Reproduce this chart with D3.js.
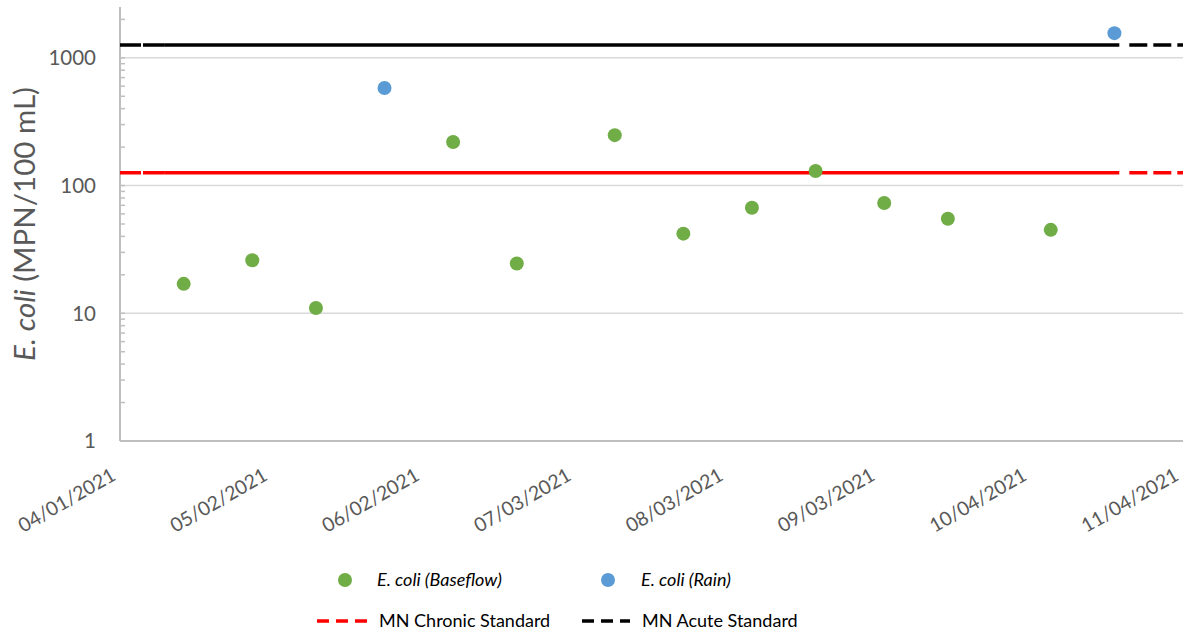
<!DOCTYPE html>
<html><head><meta charset="utf-8">
<script src="https://cdn.jsdelivr.net/npm/d3@7"></script>
<style>
body{margin:0;background:#fff}
text{font-family:Lato,"Open Sans",sans-serif}
</style>
</head><body>
<svg id="chart" width="1183" height="637"></svg>
<script>
// ---- data ----
const baseflowDates  = ["2021-04-14","2021-04-28","2021-05-11","2021-06-08","2021-06-21","2021-07-11","2021-07-25","2021-08-08","2021-08-21","2021-09-04","2021-09-17","2021-10-08"];
const baseflowValues = [17, 26, 11, 219, 24.5, 248, 42, 67, 130, 73, 55, 45];
const rainDates      = ["2021-05-25","2021-10-21"];
const rainValues     = [580, 1560];
const chronicStandard = 126;
const acuteStandard   = 1260;
const standardSolidDates = ["2021-04-10","2021-10-22"];
const xDomainDates = ["2021-04-01","2021-11-04"];
const xTickDates   = ["2021-04-01","2021-05-02","2021-06-02","2021-07-03","2021-08-03","2021-09-03","2021-10-04","2021-11-04"];
const xTickLabels  = ["04/01/2021","05/02/2021","06/02/2021","07/03/2021","08/03/2021","09/03/2021","10/04/2021","11/04/2021"];
const yTickValues  = [1, 10, 100, 1000];
const yTickLabels  = ["1","10","100","1000"];
const yDomain      = [1, 2500];
const seriesNames  = ["E. coli (Baseflow)","E. coli (Rain)","MN Chronic Standard","MN Acute Standard"];

// ---- layout ----
const L = 120, R = 1183, T = 7, B = 441;
const parse = s => new Date(s + "T00:00:00Z");
const svg = d3.select("#chart");
const x = d3.scaleUtc().domain(xDomainDates.map(parse)).range([L, R]);
const y = d3.scaleLog().domain(yDomain).range([B, T]);
const grey = "#595959", axisCol = "#bfbfbf", gridCol = "#d9d9d9";
const green = "#70ad47", blue = "#5b9bd5";

// gridlines
svg.append("g").selectAll("line").data(yTickValues.filter(v => v > 1)).join("line")
  .attr("x1", L).attr("x2", R).attr("y1", d => y(d)).attr("y2", d => y(d))
  .attr("stroke", gridCol).attr("stroke-width", 1.5);

// minor ticks
const minor = [];
for (let dec = 1; dec <= 1000; dec *= 10) for (let m = 1; m <= 9; m++) { const v = dec * m; if (v <= yDomain[1]) minor.push(v); }
svg.append("g").selectAll("line").data(minor).join("line")
  .attr("x1", L).attr("x2", L + 5).attr("y1", d => y(d)).attr("y2", d => y(d))
  .attr("stroke", axisCol).attr("stroke-width", 1.5);

// axes lines
svg.append("line").attr("x1", L).attr("x2", L).attr("y1", T).attr("y2", B).attr("stroke", axisCol).attr("stroke-width", 2);
svg.append("line").attr("x1", L).attr("x2", R).attr("y1", B).attr("y2", B).attr("stroke", axisCol).attr("stroke-width", 2);

// y tick labels
svg.append("g").selectAll("text").data(yTickValues).join("text")
  .attr("x", 96).attr("y", d => y(d)).attr("dy", "0.36em")
  .attr("text-anchor", "end").attr("fill", grey).attr("font-size", 20.5)
  .text((d, i) => yTickLabels[i]);

// x tick labels
svg.append("g").selectAll("text").data(xTickDates).join("text")
  .attr("transform", d => `translate(${x(parse(d)) - 3},${479}) rotate(-30)`)
  .attr("text-anchor", "end").attr("fill", grey).attr("font-size", 19.5)
  .text((d, i) => xTickLabels[i]);

// y axis title
const yt = svg.append("text").attr("transform", `translate(35,${(T + B) / 2}) rotate(-90)`)
  .attr("text-anchor", "middle").attr("fill", grey).attr("font-size", 29.5);
yt.append("tspan").attr("font-style", "italic").text("E. coli");
yt.append("tspan").text(" (MPN/100 mL)");

// standard lines
function stdLine(val, color) {
  const yy = y(val);
  const s0 = x(parse(standardSolidDates[0])), s1 = x(parse(standardSolidDates[1]));
  svg.append("line").attr("x1", L).attr("x2", s0).attr("y1", yy).attr("y2", yy)
    .attr("stroke", color).attr("stroke-width", 3.5).attr("stroke-dasharray", "21,2");
  svg.append("line").attr("x1", s0).attr("x2", s1).attr("y1", yy).attr("y2", yy)
    .attr("stroke", color).attr("stroke-width", 3.5);
  svg.append("line").attr("x1", s1 + 10).attr("x2", R).attr("y1", yy).attr("y2", yy)
    .attr("stroke", color).attr("stroke-width", 3.5).attr("stroke-dasharray", "18,6");
}
stdLine(chronicStandard, "#ff0000");
stdLine(acuteStandard, "#000000");

// points
svg.append("g").selectAll("circle").data(baseflowDates).join("circle")
  .attr("cx", d => x(parse(d))).attr("cy", (d, i) => y(baseflowValues[i])).attr("r", 7).attr("fill", green);
svg.append("g").selectAll("circle").data(rainDates).join("circle")
  .attr("cx", d => x(parse(d))).attr("cy", (d, i) => y(rainValues[i])).attr("r", 7).attr("fill", blue);

// legend
const lg = svg.append("g");
const lfs = 18;
lg.append("circle").attr("cx", 345).attr("cy", 580).attr("r", 7).attr("fill", green);
lg.append("text").attr("x", 377).attr("y", 580).attr("dy", "0.36em").attr("font-size", lfs).attr("font-style", "italic").attr("fill", "#000").text(seriesNames[0]);
lg.append("circle").attr("cx", 608).attr("cy", 580).attr("r", 7).attr("fill", blue);
lg.append("text").attr("x", 641).attr("y", 580).attr("dy", "0.36em").attr("font-size", lfs).attr("font-style", "italic").attr("fill", "#000").text(seriesNames[1]);
lg.append("line").attr("x1", 317).attr("x2", 367).attr("y1", 621).attr("y2", 621).attr("stroke", "#ff0000").attr("stroke-width", 3.5).attr("stroke-dasharray", "12,7");
lg.append("text").attr("x", 379).attr("y", 621).attr("dy", "0.36em").attr("font-size", lfs).attr("fill", "#000").text(seriesNames[2]);
lg.append("line").attr("x1", 582).attr("x2", 630).attr("y1", 621).attr("y2", 621).attr("stroke", "#000").attr("stroke-width", 3.5).attr("stroke-dasharray", "12,7");
lg.append("text").attr("x", 642).attr("y", 621).attr("dy", "0.36em").attr("font-size", lfs).attr("fill", "#000").text(seriesNames[3]);
</script>
</body></html>
